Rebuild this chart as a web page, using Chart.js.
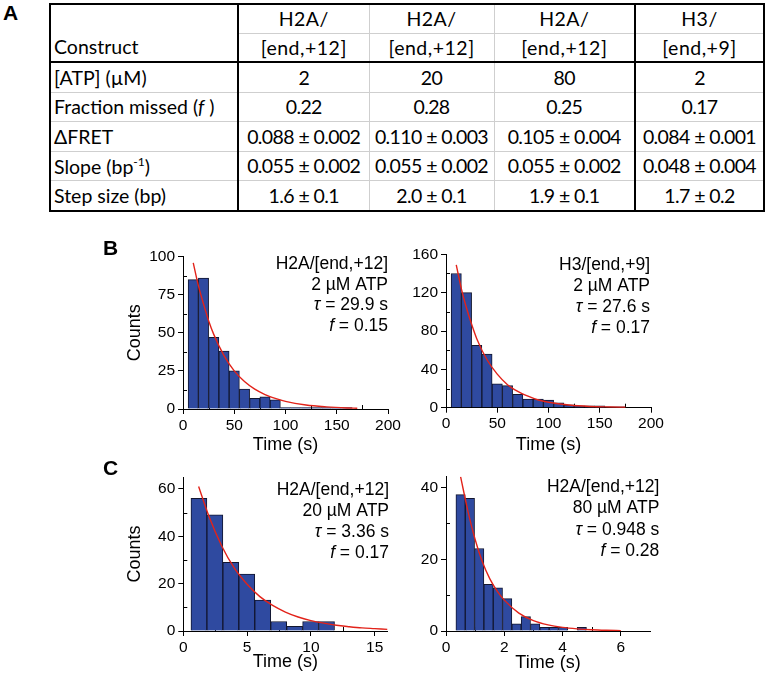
<!doctype html>
<html lang="en">
<head>
<meta charset="utf-8">
<title>Step kinetics</title>
<script src="https://cdn.jsdelivr.net/npm/chart.js@4.4.1/dist/chart.umd.min.js"></script>
<style>
  body { margin: 0; background: #fff; width: 767px; height: 674px; position: relative; overflow: hidden; }
  .panel { position: absolute; font: bold 21px "Liberation Sans", Arial, sans-serif; line-height: 21px; z-index: 2; }
  #tbl { position: absolute; left: 49px; top: 3px; width: 714px; table-layout: fixed;
         border-collapse: collapse; border: 2px solid #000; font: 19.5px Lato, sans-serif; color: #000; }
  #tbl td { height: 27.5px; padding: 0; line-height: 1; text-align: center; border: 1.5px solid #cfcfcf;
            white-space: nowrap; letter-spacing: -0.6px; }
  #tbl tr.body td { height: 28.6px; }
  #tbl tr.hd1 td, #tbl tr.hd2 td { letter-spacing: 0.5px; }
  #tbl td.rh, #tbl tr.hd1 td.rh { text-align: left; padding-left: 3px; border-right: 2px solid #000; letter-spacing: 0; }
  #tbl td.c5 { border-left: 2px solid #000; }
  #tbl tr.hd2 td, #tbl td.cons { border-bottom: 2px solid #000; }
  #tbl td.cons { vertical-align: bottom; padding-bottom: 5px; }
  canvas { position: absolute; }
</style>
</head>
<body>

<div class="panel" style="left:3px; top:2px">A</div>
<div class="panel" style="left:103px; top:237px">B</div>
<div class="panel" style="left:103px; top:457px">C</div>

<table id="tbl">
  <colgroup><col style="width:188px"><col style="width:131px"><col style="width:125px"><col style="width:141px"><col style="width:129px"></colgroup>
  <tbody id="tbody"></tbody>
</table>

<canvas id="b1" width="305" height="220" style="left:100px; top:240px"></canvas>
<canvas id="b2" width="275" height="220" style="left:395px; top:238px"></canvas>
<canvas id="c1" width="305" height="212" style="left:100px; top:462px"></canvas>
<canvas id="c2" width="275" height="212" style="left:395px; top:462px"></canvas>

<script>
// ---- table A ----
const constructTop = ['H2A/', 'H2A/', 'H2A/', 'H3/'];
const constructBottom = ['[end,+12]', '[end,+12]', '[end,+12]', '[end,+9]'];
const atpConc = ['2', '20', '80', '2'];
const fractionMissed = ['0.22', '0.28', '0.25', '0.17'];
const deltaFret = ['0.088 ± 0.002', '0.110 ± 0.003', '0.105 ± 0.004', '0.084 ± 0.001'];
const slope = ['0.055 ± 0.002', '0.055 ± 0.002', '0.055 ± 0.002', '0.048 ± 0.004'];
const stepSize = ['1.6 ± 0.1', '2.0 ± 0.1', '1.9 ± 0.1', '1.7 ± 0.2'];

// ---- B left: H2A/[end,+12], 2 uM ATP ----
const b1Centers = [10, 20, 30, 40, 50, 60, 70, 80, 90, 100, 110, 120, 130, 140, 150, 160];
const b1Counts  = [85, 86, 47, 38, 25, 13, 7, 8, 6, 1, 1, 1, 1, 1, 1, 1];
const b1FitT = [10, 15, 20, 25, 30, 40, 50, 60, 70, 80, 90, 100, 120, 140, 160, 170];
const b1FitY = [96, 81, 69, 58, 49, 35, 25, 18, 13, 9.5, 7, 5, 2.6, 1.4, 0.7, 0.5];

// ---- B right: H3/[end,+9], 2 uM ATP ----
const b2Centers = [10, 20, 30, 40, 50, 60, 70, 80, 90, 100, 110, 120, 130, 140, 150, 160, 170];
const b2Counts  = [140, 120, 65, 56, 25, 23, 14, 9, 9, 8, 5, 3, 2, 2, 2, 1, 1];
const b2FitT = [10, 15, 20, 25, 30, 40, 50, 60, 70, 80, 90, 100, 120, 140, 160, 175];
const b2FitY = [149, 124, 104, 87, 72, 50, 35, 24, 17, 12, 8, 5.7, 2.8, 1.3, 0.7, 0.4];

// ---- C left: H2A/[end,+12], 20 uM ATP ----
const c1Centers = [1.225, 2.475, 3.725, 4.975, 6.225, 7.475, 8.725, 9.975, 11.225];
const c1Counts  = [56, 49, 29, 24, 13, 4, 2, 4, 4];
const c1FitT = [1.2, 2, 3, 4, 5, 6, 7, 8, 9, 10, 11, 12, 13, 14, 15, 16];
const c1FitY = [61, 48.5, 36, 26.5, 19.7, 14.5, 10.8, 8, 5.9, 4.4, 3.3, 2.4, 1.8, 1.3, 1, 0.7];

// ---- C right: H2A/[end,+12], 80 uM ATP ----
const c2Centers = [0.5, 0.82, 1.14, 1.46, 1.78, 2.1, 2.42, 2.74, 3.06, 3.38, 3.7, 4.02, 4.34, 4.66];
const c2Counts  = [38, 37, 23, 13, 12, 9, 2, 4, 2, 1, 1, 1, 0, 1];
const c2FitT = [0.5, 0.75, 1, 1.25, 1.5, 1.75, 2, 2.5, 3, 3.5, 4, 4.5, 5, 5.5, 6];
const c2FitY = [43, 33.5, 25.5, 19.2, 14.6, 11.2, 8.6, 5, 2.9, 1.7, 1, 0.6, 0.35, 0.2, 0.1];

// build the table
const tbody = document.getElementById('tbody');
function addRow(label, vals, cls) {
  const tr = document.createElement('tr');
  tr.className = cls || 'body';
  let html = label === null ? '' : '<td class="rh' + (cls === 'hd1' ? ' cons" rowspan="2' : '') + '">' + label + '</td>';
  vals.forEach((v, i) => { html += '<td' + (i === 3 ? ' class="c5"' : '') + '>' + v + '</td>'; });
  tr.innerHTML = html;
  tbody.appendChild(tr);
}
addRow('Construct', constructTop, 'hd1');
addRow(null, constructBottom, 'hd2');
addRow('[ATP] (µM)', atpConc);
addRow('Fraction missed (<i>f</i> )', fractionMissed);
addRow('ΔFRET', deltaFret);
addRow('Slope (bp<sup style="font-size:12px">-1</sup>)', slope);
addRow('Step size (bp)', stepSize);

// ---- charts ----
Chart.defaults.font.family = '"Liberation Sans", Arial, sans-serif';
Chart.defaults.font.size = 15.5;
Chart.defaults.color = '#000';

const BLUE = '#2f4aa0';
const EDGE = '#12162f';
const RED = '#e2231a';

// short inward ticks half way between the labelled ones
const minorTicks = {
  id: 'minorTicks',
  beforeDatasetsDraw(chart) {
    const { ctx, chartArea, scales: { x, y } } = chart;
    ctx.save();
    ctx.strokeStyle = '#000';
    ctx.lineWidth = 1;
    ctx.beginPath();
    [x, y].forEach(s => {
      const v = s.ticks.map(t => t.value);
      const step = v[1] - v[0];
      for (let m = v[0] + step / 2; m < s.max; m += step) {
        const p = Math.round(s.getPixelForValue(m)) + 0.5;
        if (s === x) { ctx.moveTo(p, chartArea.bottom); ctx.lineTo(p, chartArea.bottom - 4); }
        else { ctx.moveTo(chartArea.left, p); ctx.lineTo(chartArea.left + 4, p); }
      }
    });
    ctx.stroke();
    ctx.restore();
  }
};

// right-aligned annotation block in the upper right of each plot
function notesPlugin(lines, dx, dy, gap) {
  return {
    id: 'notes',
    afterDraw(chart) {
      const { ctx, chartArea } = chart;
      const reg = '17.5px "Liberation Sans", Arial, sans-serif';
      const ita = 'italic ' + reg;
      ctx.save();
      ctx.fillStyle = '#000';
      ctx.textBaseline = 'middle';
      ctx.textAlign = 'left';
      lines.forEach((segs, i) => {
        let w = 0;
        segs.forEach(([t, it]) => { ctx.font = it ? ita : reg; w += ctx.measureText(t).width; });
        let xx = chartArea.right + dx - w;
        const yy = chartArea.top + dy + i * gap;
        segs.forEach(([t, it]) => { ctx.font = it ? ita : reg; ctx.fillText(t, xx, yy); xx += ctx.measureText(t).width; });
      });
      ctx.restore();
    }
  };
}

function histogram(id, d) {
  return new Chart(document.getElementById(id), {
    type: 'bar',
    data: {
      datasets: [
        { type: 'line', data: d.fitT.map((t, i) => ({ x: t, y: d.fitY[i] })),
          borderColor: RED, borderWidth: 1.4, pointRadius: 0, fill: false,
          cubicInterpolationMode: 'monotone', order: 0 },
        { type: 'bar', data: d.centers.map((c, i) => ({ x: c, y: d.counts[i] })),
          backgroundColor: BLUE, borderColor: EDGE, borderWidth: 1, borderSkipped: 'start',
          barPercentage: 1, categoryPercentage: 1, order: 1 }
      ]
    },
    options: {
      responsive: false,
      animation: false,
      events: [],
      layout: { padding: { top: d.padTop, right: d.padRight, left: 0, bottom: 0 } },
      plugins: { legend: { display: false }, tooltip: { enabled: false } },
      scales: {
        x: {
          type: 'linear', offset: false, min: 0, max: d.xMax,
          ticks: { stepSize: d.xStep, includeBounds: false, padding: 2, maxRotation: 0, autoSkip: false },
          grid: { drawOnChartArea: false, tickLength: 5, color: '#000', offset: false },
          border: { color: '#000', width: 1 },
          title: { display: true, text: 'Time (s)', font: { size: 18 }, padding: { top: 0, bottom: d.xTitlePad } },
          afterFit: s => { s.height = d.xHeight; }
        },
        y: {
          min: 0, max: d.yMax,
          ticks: { stepSize: d.yStep, includeBounds: false, padding: 3 },
          grid: { drawOnChartArea: false, tickLength: 5, color: '#000' },
          border: { color: '#000', width: 1 },
          title: { display: d.yTitle, text: 'Counts', font: { size: 18 }, padding: { top: 24, bottom: 0 } },
          afterFit: s => { s.width = d.yWidth; }
        }
      }
    },
    plugins: [minorTicks, notesPlugin(d.notes, d.noteDx, d.noteDy, d.noteGap)]
  });
}

const tauLine = v => [['τ', true], [' = ' + v + ' s', false]];
const fLine = v => [['f', true], [' = ' + v, false]];

histogram('b1', {
  centers: b1Centers, counts: b1Counts, fitT: b1FitT, fitY: b1FitY,
  xMax: 200, xStep: 50, yMax: 100, yStep: 25, yTitle: true,
  padTop: 16.7, padRight: 17, xHeight: 51, yWidth: 83, xTitlePad: 4,
  notes: [[['H2A/[end,+12]', false]], [['2 µM ATP', false]], tauLine('29.9'), fLine('0.15')],
  noteDx: 0, noteDy: 7.6, noteGap: 20.5
});
histogram('b2', {
  centers: b2Centers, counts: b2Counts, fitT: b2FitT, fitY: b2FitY,
  xMax: 200, xStep: 50, yMax: 160, yStep: 40, yTitle: false,
  padTop: 16.3, padRight: 19, xHeight: 50.3, yWidth: 51, xTitlePad: 2,
  notes: [[['H3/[end,+9]', false]], [['2 µM ATP', false]], tauLine('27.6'), fLine('0.17')],
  noteDx: -1, noteDy: 10.7, noteGap: 21
});
histogram('c1', {
  centers: c1Centers, counts: c1Counts, fitT: c1FitT, fitY: c1FitY,
  xMax: 16, xStep: 5, yMax: 65, yStep: 20, yTitle: true,
  padTop: 15, padRight: 17.5, xHeight: 43, yWidth: 83.3, xTitlePad: 1,
  notes: [[['H2A/[end,+12]', false]], [['20 µM ATP', false]], tauLine('3.36'), fLine('0.17')],
  noteDx: 1.5, noteDy: 13, noteGap: 21
});
histogram('c2', {
  centers: c2Centers, counts: c2Counts, fitT: c2FitT, fitY: c2FitY,
  xMax: 7, xStep: 2, yMax: 43, yStep: 20, yTitle: false,
  padTop: 14.7, padRight: 20, xHeight: 43, yWidth: 51, xTitlePad: 0,
  notes: [[['H2A/[end,+12]', false]], [['80 µM ATP', false]], tauLine('0.948'), fLine('0.28')],
  noteDx: 9.3, noteDy: 10, noteGap: 21.5
});
</script>
</body>
</html>
